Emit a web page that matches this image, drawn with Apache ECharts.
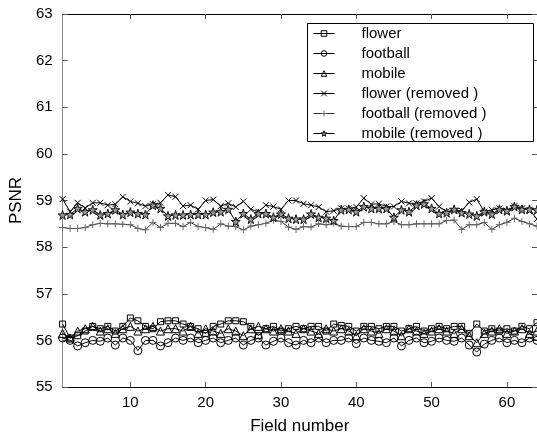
<!DOCTYPE html>
<html>
<head>
<meta charset="utf-8">
<script src="https://cdn.jsdelivr.net/npm/echarts@6/dist/echarts.min.js"></script>
<style>html,body{margin:0;padding:0;background:#fff}#c{width:537px;height:441px}</style>
</head>
<body>
<div id="c"></div>
<script>
var xTicks = [10, 20, 30, 40, 50, 60];
var yTicks = [55, 56, 57, 58, 59, 60, 61, 62, 63];
var seriesNames = ['flower', 'football', 'mobile', 'flower (removed )', 'football (removed )', 'mobile (removed )'];

var flower = [56.35,56.05,56.1,56.2,56.3,56.25,56.3,56.2,56.3,56.48,56.42,56.3,56.25,56.4,56.42,56.42,56.35,56.3,56.25,56.15,56.3,56.35,56.42,56.42,56.4,56.3,56.1,56.25,56.3,56.2,56.25,56.3,56.25,56.3,56.3,56.2,56.35,56.32,56.3,56.2,56.3,56.3,56.25,56.3,56.3,56.2,56.25,56.3,56.2,56.25,56.3,56.25,56.3,56.3,56.15,56.35,56.2,56.25,56.2,56.25,56.2,56.3,56.25,56.38];
var football = [56.05,56.0,55.88,55.95,56.0,55.98,56.05,55.9,56.05,56.0,55.78,56.0,56.0,55.88,55.95,56.05,56.0,56.05,55.95,56.0,56.05,55.95,56.0,56.05,55.9,56.0,56.05,55.9,55.98,56.05,55.95,55.9,56.0,55.95,56.05,55.95,56.0,56.0,56.05,55.93,56.05,56.0,55.98,55.95,56.05,55.88,56.0,56.05,55.95,55.98,56.05,56.0,55.98,56.05,55.9,55.75,55.92,56.0,56.05,55.95,56.0,55.95,56.05,56.0];
var mobile = [56.15,56.05,56.2,56.25,56.3,56.2,56.25,56.15,56.25,56.3,56.2,56.25,56.3,56.2,56.25,56.25,56.2,56.3,56.15,56.25,56.2,56.15,56.25,56.2,56.1,56.25,56.3,56.25,56.2,56.25,56.2,56.15,56.25,56.2,56.15,56.25,56.2,56.25,56.2,56.1,56.25,56.2,56.15,56.25,56.2,56.1,56.25,56.2,56.15,56.2,56.25,56.2,56.15,56.25,56.1,55.95,56.15,56.2,56.25,56.15,56.2,56.25,56.15,56.2];
var flowerRemoved = [59.03,58.76,58.95,58.84,58.95,58.95,58.9,58.92,59.08,58.98,58.94,58.88,58.92,58.95,59.12,59.08,58.88,58.9,58.81,59.0,59.02,58.88,58.94,58.86,58.98,58.81,58.76,58.9,58.87,58.81,59.0,59.0,58.93,58.9,58.86,58.76,58.78,58.83,58.83,58.86,59.05,58.92,58.93,58.87,58.87,58.98,58.94,58.94,58.98,59.05,58.87,58.76,58.78,58.78,58.96,59.03,58.76,58.8,58.83,58.78,58.88,58.83,58.8,58.6];
var footballRemoved = [58.42,58.4,58.4,58.42,58.48,58.51,58.5,58.5,58.49,58.48,58.4,58.37,58.53,58.42,58.51,58.51,58.44,58.53,58.44,58.42,58.38,58.5,58.45,58.44,58.37,58.45,58.48,58.51,58.58,58.55,58.43,58.38,58.44,58.43,58.5,58.48,58.51,58.45,58.44,58.44,58.53,58.53,58.5,58.5,58.55,58.48,58.48,58.5,58.5,58.5,58.5,58.57,58.58,58.38,58.48,58.48,58.53,58.38,58.48,58.53,58.62,58.55,58.5,58.45];
var mobileRemoved = [58.69,58.7,58.83,58.76,58.8,58.69,58.72,58.8,58.7,58.75,58.72,58.7,58.9,58.83,58.67,58.69,58.69,58.7,58.7,58.7,58.75,58.76,58.81,58.55,58.72,58.6,58.72,58.72,58.64,58.71,58.62,58.6,58.6,58.71,58.64,58.62,58.57,58.8,58.81,58.76,58.87,58.83,58.83,58.83,58.64,58.8,58.76,58.9,58.93,58.83,58.72,58.74,58.81,58.74,58.71,58.67,58.76,58.71,58.81,58.78,58.87,58.81,58.81,58.8];

var allData = [flower, football, mobile, flowerRemoved, footballRemoved, mobileRemoved];

function pairs(arr) { return arr.map(function (v, i) { return [i + 1, v]; }); }

var STAR = 'path://M50,0L61,35L98,35L68,57L79,91L50,70L21,91L32,57L2,35L39,35Z';
var XMARK = 'path://M0,0L10,10M0,10L10,0';
var PLUS = 'path://M5,0L5,10M0,5L10,5';

var styles = [
  {symbol: 'rect', size: 6, fill: 'rgba(255,255,255,0)', stroke: '#000', line: '#000'},
  {symbol: 'circle', size: 8, fill: 'rgba(255,255,255,0)', stroke: '#000', line: '#000'},
  {symbol: 'triangle', size: 8, fill: 'rgba(255,255,255,0)', stroke: '#000', line: '#000'},
  {symbol: XMARK, size: 6, fill: '#000', stroke: '#000', line: '#000'},
  {symbol: PLUS, size: 7, fill: '#666', stroke: '#666', line: '#333'},
  {symbol: STAR, size: 9, fill: '#999', stroke: '#111', line: '#000'}
];

var series = allData.map(function (arr, k) {
  var s = styles[k];
  return {
    name: seriesNames[k],
    type: 'line',
    data: pairs(arr),
    symbol: s.symbol,
    symbolSize: s.size,
    showAllSymbol: true,
    animation: false,
    lineStyle: {color: s.line, width: 1},
    itemStyle: {color: s.fill, borderColor: s.stroke, borderWidth: 1},
    emphasis: {disabled: true}
  };
});

var font = 'Liberation Sans, Arial, Helvetica, sans-serif';
var chart = echarts.init(document.getElementById('c'), null, {renderer: 'canvas'});
chart.setOption({
  backgroundColor: '#fff',
  animation: false,
  grid: {left: 56, top: 14, right: 0, bottom: 54, containLabel: false},
  xAxis: [{
    type: 'value', min: 1, max: 64, position: 'bottom',
    name: 'Field number', nameLocation: 'middle', nameGap: 31,
    nameTextStyle: {fontFamily: font, fontSize: 17, color: '#000'},
    axisLine: {lineStyle: {color: '#000', width: 1}},
    axisTick: {inside: true, length: 5, lineStyle: {color: '#555'}, customValues: xTicks},
    axisLabel: {fontFamily: font, fontSize: 15, color: '#000', margin: 8, customValues: xTicks},
    splitLine: {show: false}
  }, {
    type: 'value', min: 1, max: 64, position: 'top',
    axisLine: {lineStyle: {color: '#000', width: 1}},
    axisTick: {inside: true, length: 5, lineStyle: {color: '#555'}, customValues: xTicks},
    axisLabel: {show: false},
    splitLine: {show: false}
  }],
  yAxis: [{
    type: 'value', min: 55, max: 63, interval: 1, position: 'left',
    name: 'PSNR', nameLocation: 'middle', nameGap: 29,
    nameTextStyle: {fontFamily: font, fontSize: 17, color: '#000'},
    axisLine: {show: true, lineStyle: {color: '#888', width: 1}},
    axisTick: {show: true, inside: true, length: 5, lineStyle: {color: '#555'}},
    axisLabel: {fontFamily: font, fontSize: 15, color: '#000', margin: 10},
    splitLine: {show: false}
  }, {
    type: 'value', min: 55, max: 63, interval: 1, position: 'right',
    axisLine: {show: true, lineStyle: {color: '#000', width: 1}},
    axisTick: {show: true, inside: true, length: 5, lineStyle: {color: '#555'}},
    axisLabel: {show: false},
    splitLine: {show: false}
  }],
  graphic: [{
    type: 'rect', left: 307, top: 23, z: 50,
    shape: {width: 226, height: 118},
    style: {fill: '#fff', stroke: '#000', lineWidth: 1}
  }],
  legend: {
    data: seriesNames,
    orient: 'vertical',
    left: 313, top: 26, z: 60, padding: 0,
    itemWidth: 21, itemHeight: 7, itemGap: 5.0,
    itemStyle: {borderWidth: 1},
    lineStyle: {width: 1},
    textStyle: {fontFamily: font, fontSize: 15, color: '#000', lineHeight: 14, padding: [0, 0, 0, 22]},
    selectedMode: false
  },
  series: series
});
</script>
</body>
</html>
